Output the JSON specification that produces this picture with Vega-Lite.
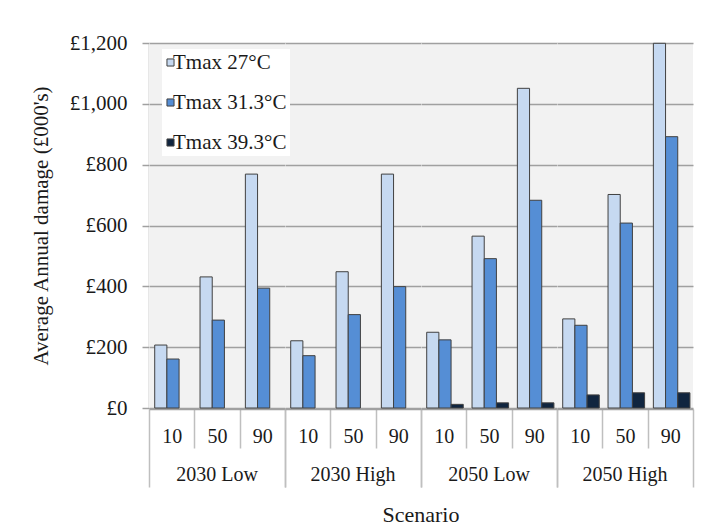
{
  "$schema": "https://vega.github.io/schema/vega-lite/v6.json",
  "background": "white",
  "padding": {"left": 30, "top": 32, "right": 13, "bottom": 2},
  "data": {
    "values": [
      {"group": "2030 Low", "pct": "10", "series": "Tmax 27°C", "value": 207},
      {"group": "2030 Low", "pct": "10", "series": "Tmax 31.3°C", "value": 161},
      {"group": "2030 Low", "pct": "10", "series": "Tmax 39.3°C", "value": 0},
      {"group": "2030 Low", "pct": "50", "series": "Tmax 27°C", "value": 431},
      {"group": "2030 Low", "pct": "50", "series": "Tmax 31.3°C", "value": 289},
      {"group": "2030 Low", "pct": "50", "series": "Tmax 39.3°C", "value": 0},
      {"group": "2030 Low", "pct": "90", "series": "Tmax 27°C", "value": 769},
      {"group": "2030 Low", "pct": "90", "series": "Tmax 31.3°C", "value": 394},
      {"group": "2030 Low", "pct": "90", "series": "Tmax 39.3°C", "value": 0},
      {"group": "2030 High", "pct": "10", "series": "Tmax 27°C", "value": 221},
      {"group": "2030 High", "pct": "10", "series": "Tmax 31.3°C", "value": 172},
      {"group": "2030 High", "pct": "10", "series": "Tmax 39.3°C", "value": 0},
      {"group": "2030 High", "pct": "50", "series": "Tmax 27°C", "value": 448},
      {"group": "2030 High", "pct": "50", "series": "Tmax 31.3°C", "value": 307},
      {"group": "2030 High", "pct": "50", "series": "Tmax 39.3°C", "value": 0},
      {"group": "2030 High", "pct": "90", "series": "Tmax 27°C", "value": 769},
      {"group": "2030 High", "pct": "90", "series": "Tmax 31.3°C", "value": 399},
      {"group": "2030 High", "pct": "90", "series": "Tmax 39.3°C", "value": 0},
      {"group": "2050 Low", "pct": "10", "series": "Tmax 27°C", "value": 249},
      {"group": "2050 Low", "pct": "10", "series": "Tmax 31.3°C", "value": 224},
      {"group": "2050 Low", "pct": "10", "series": "Tmax 39.3°C", "value": 12},
      {"group": "2050 Low", "pct": "50", "series": "Tmax 27°C", "value": 565},
      {"group": "2050 Low", "pct": "50", "series": "Tmax 31.3°C", "value": 491},
      {"group": "2050 Low", "pct": "50", "series": "Tmax 39.3°C", "value": 17},
      {"group": "2050 Low", "pct": "90", "series": "Tmax 27°C", "value": 1051},
      {"group": "2050 Low", "pct": "90", "series": "Tmax 31.3°C", "value": 683},
      {"group": "2050 Low", "pct": "90", "series": "Tmax 39.3°C", "value": 17},
      {"group": "2050 High", "pct": "10", "series": "Tmax 27°C", "value": 293},
      {"group": "2050 High", "pct": "10", "series": "Tmax 31.3°C", "value": 272},
      {"group": "2050 High", "pct": "10", "series": "Tmax 39.3°C", "value": 43},
      {"group": "2050 High", "pct": "50", "series": "Tmax 27°C", "value": 702},
      {"group": "2050 High", "pct": "50", "series": "Tmax 31.3°C", "value": 608},
      {"group": "2050 High", "pct": "50", "series": "Tmax 39.3°C", "value": 50},
      {"group": "2050 High", "pct": "90", "series": "Tmax 27°C", "value": 1199},
      {"group": "2050 High", "pct": "90", "series": "Tmax 31.3°C", "value": 892},
      {"group": "2050 High", "pct": "90", "series": "Tmax 39.3°C", "value": 50}
    ]
  },
  "spacing": 0,
  "facet": {
    "column": {
      "field": "group",
      "type": "nominal",
      "sort": ["2030 Low", "2030 High", "2050 Low", "2050 High"],
      "header": {
        "title": "Scenario",
        "titleOrient": "bottom",
        "titleFontSize": 22,
        "titleFontWeight": "normal",
        "titleColor": "#1a1a1a",
        "titleFont": "Liberation Serif",
        "titlePadding": 7,
        "labelOrient": "bottom",
        "labelFontSize": 20,
        "labelColor": "#1a1a1a",
        "labelFont": "Liberation Serif",
        "labelPadding": -23
      }
    }
  },
  "spec": {
    "width": 136,
    "height": 365,
    "mark": {"type": "bar", "stroke": "#404040", "strokeWidth": 1},
    "encoding": {
      "x": {
        "field": "pct",
        "type": "nominal",
        "scale": {"paddingInner": 0, "paddingOuter": 0},
        "axis": {
          "title": null,
          "labelAngle": 0,
          "labelFont": "Liberation Serif",
          "labelFontSize": 20,
          "labelColor": "#1a1a1a",
          "labelPadding": {"condition": {"test": "datum.value == '90'", "value": -61}, "value": -22},
          "tickBand": "extent",
          "tickSize": {"condition": {"test": "datum.extra || datum.value == '90'", "value": 78}, "value": 39},
          "tickColor": "#bfbfbf",
          "tickWidth": 1.5,
          "domainColor": "#a0a0a0",
          "domainWidth": 1.5
        }
      },
      "xOffset": {
        "field": "series",
        "type": "nominal",
        "sort": ["Tmax 27°C", "Tmax 31.3°C", "Tmax 39.3°C"],
        "scale": {"paddingOuter": 0.36, "paddingInner": 0, "align": 0.65}
      },
      "y": {
        "field": "value",
        "type": "quantitative",
        "scale": {"domain": [0, 1200], "nice": false},
        "axis": {
          "title": "Average Annual damage (£000's)",
          "titleFont": "Liberation Serif",
          "titleFontSize": 21,
          "titleFontWeight": "normal",
          "titleColor": "#1a1a1a",
          "titlePadding": 18,
          "values": [0, 200, 400, 600, 800, 1000, 1200],
          "labelExpr": "'£' + format(datum.value, ',')",
          "labelFont": "Liberation Serif",
          "labelFontSize": 21,
          "labelColor": "#1a1a1a",
          "labelPadding": 15,
          "labelFlush": false,
          "tickSize": 7,
          "tickColor": "#a0a0a0",
          "tickWidth": 1.5,
          "domainColor": "#a0a0a0",
          "domainWidth": 1.5,
          "gridColor": "#a0a0a0",
          "gridWidth": 1.5
        }
      },
      "color": {
        "field": "series",
        "type": "nominal",
        "sort": ["Tmax 27°C", "Tmax 31.3°C", "Tmax 39.3°C"],
        "scale": {
          "domain": ["Tmax 27°C", "Tmax 31.3°C", "Tmax 39.3°C"],
          "range": ["#c6d9f1", "#558ed5", "#10253f"]
        },
        "legend": {
          "title": null,
          "orient": "none",
          "legendX": 13,
          "legendY": 6,
          "fillColor": "white",
          "padding": 3,
          "rowPadding": 18,
          "symbolType": "square",
          "symbolSize": 50,
          "symbolOffset": -5,
          "symbolStrokeColor": "#404040",
          "symbolStrokeWidth": 1,
          "labelFont": "Liberation Serif",
          "labelFontSize": 21,
          "labelColor": "#1a1a1a",
          "labelOffset": -8
        }
      },
      "strokeOpacity": {"condition": {"test": "datum.value == 0", "value": 0}, "value": 1}
    }
  },
  "config": {
    "view": {"fill": "#f2f2f2", "stroke": null},
    "font": "Liberation Serif"
  }
}
